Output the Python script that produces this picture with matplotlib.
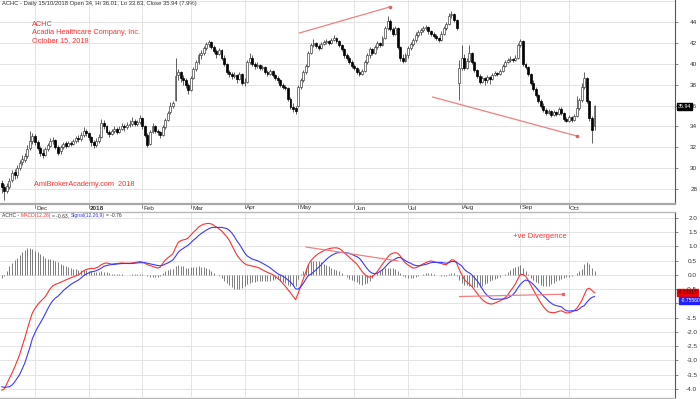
import numpy as np
import matplotlib
matplotlib.use('Agg')
import matplotlib.pyplot as plt
from matplotlib.lines import Line2D
from matplotlib.transforms import blended_transform_factory

plt.rcParams['font.family'] = ['Liberation Sans', 'DejaVu Sans']

# --- daily bars, ACHC 13 Nov 2017 .. 15 Oct 2018 ---
opens = [
    28.6, 28.2, 27.8, 28.2, 28.9, 29.6, 29.3, 30.0, 30.6, 30.8,
    31.2, 31.9, 32.6, 33.1, 32.5, 31.9, 31.5, 31.3, 31.8, 32.1,
    32.6, 32.7, 32.0, 31.6, 32.0, 32.4, 32.1, 32.4, 32.3, 32.6,
    32.9, 32.8, 33.2, 33.6, 33.4, 33.0, 32.5, 32.2, 32.6, 33.0,
    34.3, 34.0, 33.5, 33.3, 33.6, 33.8, 33.5, 33.8, 34.0, 33.9,
    34.1, 34.2, 34.5, 34.2, 34.4, 34.8, 34.0, 33.2, 32.3, 33.5,
    34.0, 33.6, 33.5, 33.2, 33.9, 34.6, 35.4, 36.0, 36.5, 38.9,
    39.2, 38.6, 38.4, 38.0, 37.5, 38.6, 39.5, 40.2, 40.8, 41.0,
    41.5, 41.9, 42.1, 41.6, 41.2, 40.9, 41.3, 40.6, 40.0, 39.2,
    39.0, 38.8, 38.9, 38.5, 39.0, 38.2, 38.3, 40.2, 40.6, 40.0,
    39.8, 39.9, 39.6, 39.7, 39.2, 39.0, 39.3, 38.9, 38.6, 38.4,
    38.0, 37.8, 37.7, 36.6, 35.9, 35.8, 36.0, 37.8, 38.4, 39.2,
    39.8, 41.0, 41.8, 42.0, 41.7, 41.5, 41.9, 42.1, 42.2, 42.0,
    42.3, 42.5, 42.2, 41.8, 41.4, 40.8, 40.6, 40.2, 39.8, 39.6,
    39.2, 39.0, 39.3, 40.2, 40.8, 41.4, 41.0, 41.6, 42.0, 41.8,
    42.5, 43.4, 44.1, 43.3, 42.9, 43.4, 41.6, 40.6, 40.3, 40.8,
    41.5, 41.9, 42.3, 42.8, 43.0, 43.2, 43.4, 43.5, 43.1, 42.9,
    42.7, 42.5, 42.3, 42.9, 43.4, 43.8, 44.7, 44.8, 44.2, 38.2,
    39.6, 40.6, 39.6, 40.3, 41.0, 40.2, 39.4, 38.8, 38.3, 38.6,
    38.4, 38.7, 38.5, 38.9, 39.1, 39.0, 39.3, 39.8, 40.2, 40.4,
    40.5, 40.4, 40.6, 41.8, 42.2, 40.0, 39.7, 39.0, 38.2, 37.6,
    37.0, 36.4, 36.0, 35.6, 35.3, 35.5, 35.1, 35.4, 35.2, 35.7,
    35.3, 34.7, 34.5, 34.9, 34.6, 35.0, 35.8, 36.5, 37.8, 38.6,
    36.4, 34.8, 34.0,
]
highs = [
    28.9, 28.5, 28.6, 29.1, 29.8, 29.9, 30.3, 30.8, 31.3, 31.5,
    32.2, 33.6, 33.4, 33.3, 32.7, 32.1, 31.8, 32.0, 32.4, 32.9,
    33.0, 32.8, 32.2, 32.2, 32.5, 32.6, 32.6, 32.6, 32.8, 33.1,
    33.2, 33.5, 33.9, 33.8, 33.5, 33.1, 32.7, 32.9, 33.3, 34.7,
    34.6, 34.1, 33.7, 33.8, 34.0, 33.9, 34.0, 34.3, 34.2, 34.4,
    34.6, 34.9, 34.7, 34.6, 35.1, 34.9, 34.1, 33.4, 33.7, 34.3,
    34.1, 33.8, 33.6, 34.1, 34.8, 35.5, 36.3, 36.4, 40.6, 39.5,
    39.3, 38.9, 38.6, 38.2, 38.8, 39.7, 40.4, 41.0, 41.3, 41.7,
    42.1, 42.3, 42.2, 41.8, 41.4, 41.5, 41.4, 40.8, 40.1, 39.4,
    39.2, 39.2, 39.0, 39.2, 39.1, 38.6, 40.4, 41.0, 40.8, 40.2,
    40.2, 40.0, 39.9, 39.8, 39.4, 39.5, 39.4, 39.0, 38.8, 38.5,
    38.2, 38.0, 37.8, 36.8, 36.2, 36.0, 38.0, 38.6, 39.4, 40.0,
    41.2, 42.0, 42.4, 42.1, 41.9, 42.1, 42.3, 42.4, 42.3, 42.5,
    42.8, 42.6, 42.3, 41.9, 41.5, 41.0, 40.7, 40.4, 40.0, 39.7,
    39.5, 39.5, 40.4, 41.0, 41.6, 41.5, 41.8, 42.2, 42.1, 42.7,
    43.6, 44.6, 44.3, 43.5, 43.6, 43.5, 41.7, 40.9, 41.0, 41.7,
    42.1, 42.5, 43.0, 43.2, 43.4, 43.6, 43.7, 43.6, 43.2, 43.0,
    42.9, 42.6, 43.1, 43.6, 44.0, 44.9, 45.1, 44.9, 44.3, 40.4,
    41.8, 40.9, 40.6, 41.8, 41.1, 40.3, 39.5, 39.0, 38.8, 38.7,
    38.9, 38.8, 39.1, 39.3, 39.2, 39.5, 40.0, 40.4, 40.6, 40.7,
    40.6, 40.8, 42.0, 42.4, 42.3, 40.1, 39.8, 39.1, 38.4, 37.8,
    37.1, 36.6, 36.2, 35.8, 35.7, 35.6, 35.6, 35.5, 35.9, 35.9,
    35.4, 34.9, 35.1, 35.0, 35.2, 36.9, 36.7, 38.2, 39.2, 38.7,
    36.5, 35.0, 36.01,
]
lows = [
    27.6, 27.0, 27.6, 28.0, 28.7, 29.0, 29.1, 29.8, 30.3, 30.6,
    31.0, 31.7, 32.3, 32.2, 31.7, 31.2, 31.0, 31.2, 31.6, 32.0,
    32.3, 31.8, 31.3, 31.4, 31.8, 31.9, 32.0, 32.1, 32.2, 32.4,
    32.5, 32.6, 33.0, 33.1, 32.7, 32.1, 31.9, 32.0, 32.4, 32.9,
    33.8, 33.3, 33.0, 33.2, 33.4, 33.3, 33.4, 33.7, 33.6, 33.8,
    33.9, 34.0, 34.0, 34.0, 34.2, 33.8, 33.0, 32.0, 32.2, 33.4,
    33.4, 33.2, 32.9, 33.1, 33.8, 34.5, 35.2, 35.8, 36.4, 38.4,
    38.3, 38.0, 37.7, 37.1, 37.4, 38.5, 39.3, 40.0, 40.5, 40.8,
    41.3, 41.6, 41.4, 41.0, 40.6, 40.8, 40.4, 39.8, 39.0, 38.7,
    38.5, 38.6, 38.2, 38.4, 38.0, 37.9, 38.2, 40.0, 39.8, 39.5,
    39.6, 39.4, 39.4, 39.0, 38.8, 38.9, 38.7, 38.4, 38.2, 37.8,
    37.6, 37.5, 36.4, 35.7, 35.4, 35.2, 35.9, 37.6, 38.3, 39.0,
    39.7, 40.9, 41.6, 41.5, 41.3, 41.4, 41.8, 41.9, 41.8, 41.9,
    42.2, 42.0, 41.6, 41.2, 40.6, 40.4, 40.0, 39.6, 39.4, 39.0,
    38.8, 38.9, 39.2, 40.0, 40.6, 40.8, 40.9, 41.4, 41.6, 41.7,
    42.4, 43.2, 43.1, 42.7, 42.8, 41.4, 40.3, 40.1, 40.2, 40.6,
    41.3, 41.7, 42.1, 42.6, 42.8, 43.0, 43.2, 42.9, 42.7, 42.5,
    42.3, 42.1, 42.2, 42.8, 43.2, 43.7, 44.4, 44.0, 43.2, 36.5,
    39.4, 39.4, 39.5, 40.2, 40.0, 39.2, 38.6, 38.1, 38.2, 38.0,
    38.2, 38.1, 38.4, 38.8, 38.8, 38.9, 39.2, 39.7, 40.1, 40.2,
    40.2, 40.3, 40.5, 41.6, 39.8, 39.5, 38.8, 38.0, 37.4, 36.8,
    36.2, 35.8, 35.4, 35.1, 35.2, 34.9, 35.0, 35.0, 35.1, 35.1,
    34.5, 34.4, 34.4, 34.4, 34.5, 34.9, 35.6, 36.3, 37.6, 36.2,
    34.5, 32.4, 33.63,
]
closes = [
    28.2, 27.8, 28.3, 28.8, 29.5, 29.3, 30.0, 30.5, 30.9, 31.2,
    31.8, 32.6, 33.1, 32.5, 31.9, 31.5, 31.3, 31.8, 32.2, 32.6,
    32.7, 32.0, 31.5, 32.0, 32.3, 32.1, 32.4, 32.3, 32.6, 32.9,
    32.8, 33.2, 33.6, 33.4, 33.0, 32.5, 32.2, 32.6, 33.0, 34.3,
    34.0, 33.5, 33.3, 33.6, 33.8, 33.5, 33.8, 34.0, 33.9, 34.1,
    34.2, 34.5, 34.2, 34.4, 34.8, 34.0, 33.2, 32.2, 33.5, 34.0,
    33.6, 33.5, 33.2, 33.9, 34.6, 35.3, 36.0, 36.2, 38.8, 39.2,
    38.6, 38.4, 38.0, 37.5, 38.6, 39.5, 40.2, 40.8, 41.0, 41.5,
    41.9, 42.1, 41.6, 41.2, 40.9, 41.3, 40.6, 40.0, 39.2, 39.0,
    38.8, 38.9, 38.5, 39.0, 38.2, 38.3, 40.2, 40.6, 40.0, 39.8,
    39.9, 39.6, 39.7, 39.2, 39.0, 39.3, 38.9, 38.6, 38.4, 38.0,
    37.8, 37.7, 36.6, 35.9, 35.7, 35.5, 37.8, 38.4, 39.2, 39.8,
    41.0, 41.8, 42.0, 41.7, 41.5, 41.9, 42.1, 42.2, 42.0, 42.3,
    42.5, 42.2, 41.8, 41.4, 40.8, 40.6, 40.2, 39.8, 39.6, 39.2,
    39.0, 39.3, 40.2, 40.8, 41.4, 41.0, 41.6, 42.0, 41.8, 42.5,
    43.4, 44.1, 43.3, 42.9, 43.4, 41.6, 40.6, 40.3, 40.8, 41.5,
    41.9, 42.3, 42.8, 43.0, 43.2, 43.4, 43.5, 43.1, 42.9, 42.7,
    42.5, 42.3, 42.9, 43.4, 43.8, 44.6, 44.8, 44.2, 43.4, 39.6,
    40.6, 39.6, 40.3, 41.0, 40.2, 39.4, 38.8, 38.3, 38.6, 38.4,
    38.7, 38.5, 38.9, 39.1, 39.0, 39.3, 39.8, 40.2, 40.4, 40.5,
    40.4, 40.6, 41.8, 42.2, 40.0, 39.7, 39.0, 38.2, 37.6, 37.0,
    36.4, 36.0, 35.6, 35.3, 35.5, 35.1, 35.4, 35.2, 35.7, 35.3,
    34.7, 34.5, 34.9, 34.6, 35.0, 35.8, 36.5, 37.8, 38.6, 36.4,
    34.8, 33.7, 35.94,
]

# MACD(12,26) and Signal(12,26,9), one value per bar
macd = [
    -4.05, -4.00, -3.82, -3.63, -3.45, -3.25, -3.03, -2.80, -2.50, -2.22,
    -1.90, -1.60, -1.33, -1.18, -1.05, -0.95, -0.86, -0.77, -0.62, -0.48,
    -0.38, -0.33, -0.30, -0.26, -0.22, -0.18, -0.14, -0.10, -0.07, -0.03,
    0.00, 0.07, 0.14, 0.19, 0.21, 0.23, 0.22, 0.25, 0.29, 0.36,
    0.40, 0.42, 0.40, 0.38, 0.39, 0.40, 0.41, 0.42, 0.41, 0.41,
    0.41, 0.42, 0.43, 0.45, 0.47, 0.45, 0.41, 0.36, 0.33, 0.30,
    0.27, 0.24, 0.27, 0.40, 0.52, 0.60, 0.67, 0.75, 0.95, 1.14,
    1.20, 1.23, 1.25, 1.30, 1.40, 1.50, 1.58, 1.68, 1.74, 1.78,
    1.80, 1.81, 1.79, 1.74, 1.68, 1.62, 1.55, 1.45, 1.35, 1.22,
    1.05, 0.87, 0.70, 0.58, 0.48, 0.40, 0.35, 0.33, 0.31, 0.29,
    0.27, 0.23, 0.18, 0.13, 0.09, 0.05, 0.01, -0.05, -0.12, -0.20,
    -0.30, -0.40, -0.52, -0.63, -0.75, -0.87, -0.65, -0.40, -0.15, 0.10,
    0.36, 0.50, 0.60, 0.68, 0.75, 0.80, 0.85, 0.89, 0.92, 0.94,
    0.95, 0.95, 0.93, 0.87, 0.78, 0.70, 0.62, 0.54, 0.46, 0.38,
    0.25, 0.12, 0.02, -0.05, -0.08, -0.06, 0.02, 0.12, 0.25, 0.38,
    0.50, 0.62, 0.72, 0.76, 0.78, 0.76, 0.66, 0.52, 0.42, 0.35,
    0.29, 0.24, 0.25, 0.29, 0.34, 0.39, 0.43, 0.47, 0.49, 0.47,
    0.44, 0.42, 0.40, 0.37, 0.36, 0.45, 0.53, 0.52, 0.42, 0.20,
    0.02, -0.15, -0.25, -0.32, -0.41, -0.52, -0.64, -0.76, -0.86, -0.94,
    -0.99, -1.02, -1.02, -0.99, -0.95, -0.91, -0.86, -0.80, -0.71, -0.58,
    -0.45, -0.32, -0.14, 0.02, 0.01, -0.04, -0.18, -0.35, -0.52, -0.68,
    -0.84, -0.99, -1.12, -1.22, -1.30, -1.32, -1.33, -1.31, -1.28, -1.26,
    -1.30, -1.34, -1.33, -1.30, -1.26, -1.18, -1.05, -0.90, -0.70, -0.50,
    -0.47, -0.55, -0.63,
]
signal = [
    -3.93, -3.95, -3.94, -3.93, -3.87, -3.77, -3.63, -3.50, -3.30, -3.10,
    -2.83, -2.55, -2.23, -2.03, -1.85, -1.70, -1.54, -1.37, -1.19, -1.03,
    -0.90, -0.81, -0.75, -0.66, -0.56, -0.48, -0.41, -0.34, -0.28, -0.23,
    -0.18, -0.11, -0.03, 0.03, 0.07, 0.11, 0.12, 0.15, 0.19, 0.24,
    0.30, 0.33, 0.35, 0.36, 0.37, 0.38, 0.39, 0.40, 0.40, 0.40,
    0.40, 0.40, 0.41, 0.42, 0.43, 0.43, 0.43, 0.41, 0.39, 0.37,
    0.35, 0.33, 0.32, 0.34, 0.38, 0.42, 0.47, 0.53, 0.65, 0.79,
    0.87, 0.93, 0.99, 1.05, 1.13, 1.22, 1.29, 1.38, 1.45, 1.51,
    1.57, 1.62, 1.66, 1.67, 1.67, 1.67, 1.67, 1.65, 1.63, 1.57,
    1.48, 1.35, 1.20, 1.08, 0.93, 0.78, 0.67, 0.61, 0.56, 0.53,
    0.50, 0.46, 0.41, 0.36, 0.31, 0.25, 0.18, 0.11, 0.04, 0.00,
    -0.05, -0.10, -0.18, -0.25, -0.35, -0.49, -0.50, -0.42, -0.30, -0.15,
    -0.02, 0.02, 0.10, 0.18, 0.27, 0.35, 0.45, 0.54, 0.62, 0.68,
    0.73, 0.77, 0.78, 0.79, 0.78, 0.78, 0.76, 0.72, 0.68, 0.64,
    0.58, 0.47, 0.34, 0.22, 0.12, 0.06, 0.04, 0.06, 0.12, 0.18,
    0.27, 0.37, 0.46, 0.51, 0.56, 0.61, 0.61, 0.56, 0.50, 0.45,
    0.41, 0.36, 0.33, 0.32, 0.33, 0.35, 0.37, 0.40, 0.43, 0.44,
    0.44, 0.44, 0.44, 0.42, 0.41, 0.43, 0.47, 0.47, 0.45, 0.38,
    0.32, 0.20, 0.12, 0.07, 0.00, -0.10, -0.20, -0.33, -0.48, -0.62,
    -0.72, -0.80, -0.85, -0.86, -0.85, -0.85, -0.85, -0.84, -0.81, -0.76,
    -0.70, -0.60, -0.45, -0.33, -0.24, -0.18, -0.20, -0.25, -0.33, -0.43,
    -0.54, -0.64, -0.74, -0.82, -0.92, -0.99, -1.05, -1.08, -1.10, -1.12,
    -1.20, -1.26, -1.27, -1.26, -1.26, -1.25, -1.20, -1.12, -1.08, -0.96,
    -0.86, -0.79, -0.76,
]

month_names = ['Dec', '2018', 'Feb', 'Mar', 'Apr', 'May', 'Jun', 'Jul', 'Aug', 'Sep', 'Oct']
month_bars = [13, 34, 55, 74, 95, 116, 138, 159, 180, 203, 222]

price_ticks = [28, 30, 32, 34, 36, 38, 40, 42, 44]
macd_ticks = [2.0, 1.5, 1.0, 0.5, 0.0, -0.5, -1.0, -1.5, -2.0, -2.5, -3.0, -3.5, -4.0]

# hand drawn divergence lines (bar, value)
price_line_up = ([116.5, 151.8], [42.95, 45.44])
price_line_down = ([168.6, 225.1], [36.82, 33.08])
macd_line_down = ([119.1, 155.0], [0.98, 0.49])
macd_line_flat = ([179.2, 219.7], [-0.76, -0.68])

RED = '#ff3030'
BLUE = '#3a3aff'
GRID = '#e4e4e4'
TXT = '#333333'

W, H = 700, 399


def fy(py):
    return 1 - py / H


fig = plt.figure(figsize=(7, 3.99), dpi=100)
ax1 = fig.add_axes([0, fy(204), 675 / W, 204 / H])
ax2 = fig.add_axes([0, fy(397), 675 / W, (397 - 212) / H])

o = np.array(opens)
hi = np.array(highs)
lo = np.array(lows)
c = np.array(closes)
idx = np.arange(len(c))
m = np.array(macd)
s = np.array(signal)

for ax in (ax1, ax2):
    ax.set_xlim(-0.7, 263.5)
    for sp in ('top', 'left', 'bottom'):
        ax.spines[sp].set_visible(False)
    ax.spines['right'].set_color('#555555')
    ax.spines['right'].set_linewidth(0.8)
    ax.yaxis.tick_right()
    ax.set_xticks([])
    ax.tick_params(axis='y', length=2, width=0.5, color='#555555',
                   labelsize=4.6, labelcolor=TXT, pad=14.0)
    for mb in month_bars:
        ax.axvline(mb, color=GRID, lw=0.7, zorder=0)

# --- price panel ---
ax1.set_ylim(26.57, 46.11)
ax1.set_yticks(price_ticks)
ax1.set_yticklabels([str(v) for v in price_ticks], ha='right')
for v in price_ticks + [46]:
    ax1.axhline(v, color=GRID, lw=0.7, zorder=0)

up = c >= o
bottom = np.minimum(o, c)
height = np.maximum(np.abs(c - o), 0.06)
ax1.vlines(idx, lo, hi, color='#222222', lw=0.5, zorder=2)
ax1.bar(idx[up], height[up], bottom=bottom[up], width=0.75, color='white',
        edgecolor='#333333', linewidth=0.45, zorder=3)
ax1.bar(idx[~up], height[~up], bottom=bottom[~up], width=0.75, color='black',
        edgecolor='black', linewidth=0.5, zorder=3)

for xs, ys in (price_line_up, price_line_down):
    ax1.plot(xs, ys, color='#f08080', lw=0.9, zorder=4)
    ax1.plot(xs[1], ys[1], marker='o', ms=1.6, color='#f06060', zorder=4)

tr1 = blended_transform_factory(ax1.transAxes, ax1.transData)
ax1.text(1.004, closes[-1], '%.2f' % closes[-1], transform=tr1, fontsize=3.8,
         color='white', va='center', ha='left', zorder=6,
         bbox=dict(boxstyle='square,pad=0.2', fc='black', ec='black'))

# --- MACD panel ---
hist = m - s
ax2.set_ylim(-4.29, 2.21)
ax2.set_yticks(macd_ticks)
ax2.set_yticklabels(['%.1f' % v for v in macd_ticks], ha='right')
for v in macd_ticks:
    ax2.axhline(v, color=GRID, lw=0.7, zorder=0)
ax2.vlines(idx, 0, hist, color='#5a5a5a', lw=0.55, zorder=2)
ax2.plot(idx, m, color=RED, lw=0.8, zorder=3)
ax2.plot(idx, s, color=BLUE, lw=0.8, zorder=3)
for xs, ys in (macd_line_down, macd_line_flat):
    ax2.plot(xs, ys, color='#f08080', lw=0.9, zorder=4)
ax2.plot(macd_line_flat[0][1], macd_line_flat[1][1], marker='o', ms=1.6,
         color='#f06060', zorder=4)

tr2 = blended_transform_factory(ax2.transAxes, ax2.transData)
ax2.text(1.004, macd[-1], '-0.63017', transform=tr2, fontsize=3.6,
         color='#300000', va='center', ha='left', zorder=6,
         bbox=dict(boxstyle='square,pad=0.2', fc='#ee0000', ec='#ee0000'))
ax2.text(1.008, signal[-1] - 0.05, '-0.75560', transform=tr2, fontsize=3.6,
         color='white', va='top', ha='left', zorder=6,
         bbox=dict(boxstyle='square,pad=0.2', fc='#2020ff', ec='#2020ff'))

# --- date strip between the panels, bottom edge line ---
fig.add_artist(Line2D([0, 675 / W], [fy(204), fy(204)], color='#a8a8a8', lw=1.6))
fig.add_artist(Line2D([0, 675 / W], [fy(211.5), fy(211.5)], color='#b8b8b8', lw=1.0))
fig.add_artist(Line2D([0, 675 / W], [fy(397.5), fy(397.5)], color='#b8b8b8', lw=1.0))
trd = blended_transform_factory(ax1.transData, fig.transFigure)
for name, mb in zip(month_names, month_bars):
    ax1.plot([mb, mb], [fy(205), fy(207.5)], color='#555555', lw=0.5,
             transform=trd, clip_on=False)
    ax1.text(mb + 0.5, fy(208), name, transform=trd, fontsize=4.6, color=TXT,
             va='center', ha='left', clip_on=False,
             fontweight='bold' if name == '2018' else 'normal')

# --- texts ---
fig.text(2 / W, fy(0.5), 'ACHC - Daily 15/10/2018 Open 34, Hi 36.01, Lo 33.63, Close 35.94 (7.9%)',
         fontsize=4.2, color=TXT, va='top', ha='left')
fig.text(32 / W, fy(24), 'ACHC', fontsize=5.3, color=RED, va='center')
fig.text(32 / W, fy(32.5), 'Acadia Healthcare Company, Inc.', fontsize=5.3, color=RED, va='center')
fig.text(32 / W, fy(41), 'October 15, 2018', fontsize=5.3, color=RED, va='center')
fig.text(34 / W, fy(185), 'AmiBrokerAcademy.com  2018', fontsize=5.3, color=RED, va='center')
fig.text(513 / W, fy(236), '+ve Divergence', fontsize=5.5, color=RED, va='center')

# coloured MACD legend, pieces placed one after another
renderer = fig.canvas.get_renderer()
probe_a = fig.text(0, 0, 'a a', fontsize=3.6)
probe_b = fig.text(0, 0, 'aa', fontsize=3.6)
space_w = probe_a.get_window_extent(renderer).width - probe_b.get_window_extent(renderer).width
probe_a.remove()
probe_b.remove()
xpos = 2.0
for part, col, gap in [('ACHC -', TXT, 1), ('MACD(12,26)', RED, 1), ('= -0.63,', TXT, 1),
                       ('Signal(12,26,9)', BLUE, 1), ('= -0.76', TXT, 0)]:
    t = fig.text(xpos / W, fy(215.5), part, fontsize=3.6, color=col, va='center', ha='left')
    xpos += t.get_window_extent(renderer).width + gap * space_w

fig.savefig('out.png', dpi=100)
